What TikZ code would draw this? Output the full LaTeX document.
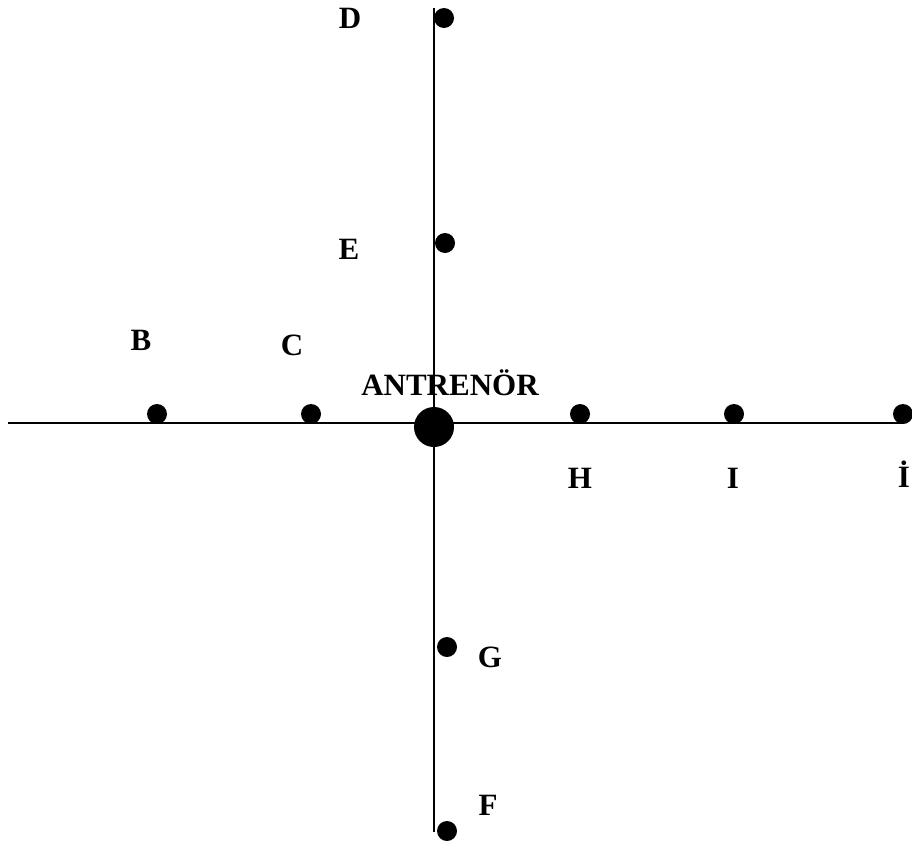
\documentclass[tikz,border=0pt]{standalone}
\usepackage{fontspec}
\setmainfont{Liberation Serif}
\begin{document}
\begin{tikzpicture}[x=1pt,y=-1pt,
  dot/.style={circle,fill=black,inner sep=0pt,minimum size=20pt},
  bigdot/.style={circle,fill=black,inner sep=0pt,minimum size=40pt},
  lbl/.style={font=\fontsize{31}{33}\selectfont\bfseries,inner sep=0pt},
  axis/.style={line width=1.3pt}]
\useasboundingbox (0,0) rectangle (912,846);
\coordinate (L) at (8,423);
\coordinate (R) at (904,423);
\coordinate (T) at (434,8);
\coordinate (Bt) at (434,832);
\draw[axis] (L) -- (R);
\draw[axis] (T) -- (Bt);
\node[bigdot] (ant) at (434,427) {};
\node[dot] (b) at (157,414) {};
\node[dot] (c) at (311,414) {};
\node[dot] (h) at (580,414) {};
\node[dot] (i) at (734,414) {};
\node[dot] (ii) at (903,414) {};
\node[dot] (d) at (444,18) {};
\node[dot] (e) at (445,243) {};
\node[dot] (g) at (447,647) {};
\node[dot] (f) at (447,831) {};
\node[lbl] (lb) at (141,340) {B};
\node[lbl] (lc) at (292,345) {C};
\node[lbl] (lant) at (450,383) {ANTRENÖR};
\node[lbl] (lh) at (580,478) {H};
\node[lbl] (li) at (733,478) {I};
\node[lbl] (lii) at (904,474) {İ};
\node[lbl] (ld) at (350,18) {D};
\node[lbl] (le) at (349,249) {E};
\node[lbl] (lg) at (490,657) {G};
\node[lbl] (lf) at (488,805) {F};
\end{tikzpicture}
\end{document}
